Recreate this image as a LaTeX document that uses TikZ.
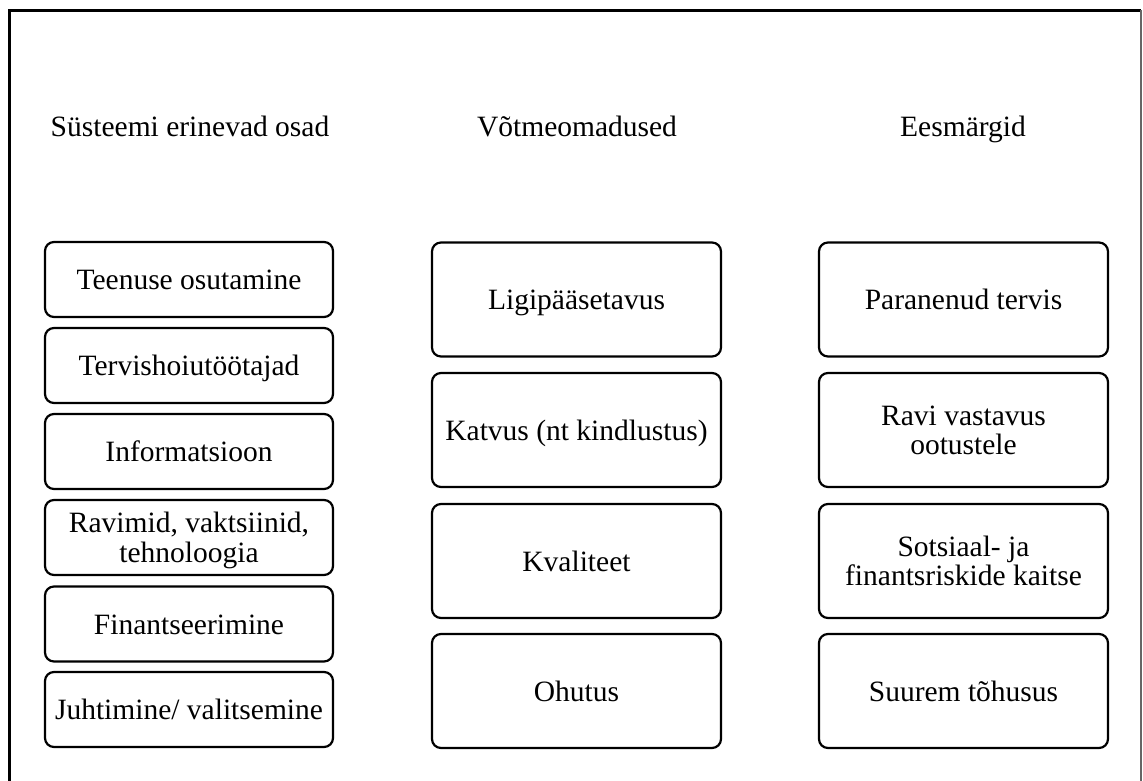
\documentclass[tikz,border=0pt]{standalone}
\usepackage{fontspec}
\setmainfont{Liberation Serif}
\begin{document}
\begin{tikzpicture}[x=1pt,y=-1pt,
  box/.style={draw, line width=2.2pt, rounded corners=9pt, align=center, inner sep=2pt,
    text depth=0pt, font=\fontsize{29.5}{29.5}\selectfont},
  one/.style={text height=20pt},
  lbox/.style={box, minimum width=288pt, minimum height=75pt},
  mbox/.style={box, minimum width=289pt, minimum height=114pt},
  head/.style={anchor=base, font=\fontsize{29.5}{29.5}\selectfont}]
\useasboundingbox (0,0) rectangle (1143,780);
\fill[white] (0,0) rectangle (1143,780);
% frame
\draw[line width=3pt] (9.5,781) -- (9.5,10) -- (1141,10);
\draw[gray!80!black, line width=1.3pt] (1141,10) -- (1141,781);
% headers
\node[head] (h1) at (190,136) {Süsteemi erinevad osad};
\node[head] (h2) at (577,136) {Võtmeomadused};
\node[head] (h3) at (963,136) {Eesmärgid};
% left column
\node[lbox,one] (l1) at (189,279.5) {Teenuse osutamine};
\node[lbox,one] (l2) at (189,365.5) {Tervishoiutöötajad};
\node[lbox,one] (l3) at (189,451.5) {Informatsioon};
\node[lbox] (l4) at (189,537.5) {Ravimid, vaktsiinid,\\tehnoloogia};
\node[lbox,one] (l5) at (189,624) {Finantseerimine};
\node[lbox,one] (l6) at (189,709.5) {Juhtimine/ valitsemine};
% middle column
\node[mbox,one] (m1) at (576.5,299.5) {Ligipääsetavus};
\node[mbox,one] (m2) at (576.5,430) {Katvus (nt kindlustus)};
\node[mbox,one] (m3) at (576.5,561) {Kvaliteet};
\node[mbox,one] (m4) at (576.5,691) {Ohutus};
% right column
\node[mbox,one] (r1) at (963.5,299.5) {Paranenud tervis};
\node[mbox] (r2) at (963.5,430) {Ravi vastavus\\ootustele};
\node[mbox] (r3) at (963.5,561) {Sotsiaal- ja\\finantsriskide kaitse};
\node[mbox,one] (r4) at (963.5,691) {Suurem tõhusus};
\end{tikzpicture}
\end{document}
